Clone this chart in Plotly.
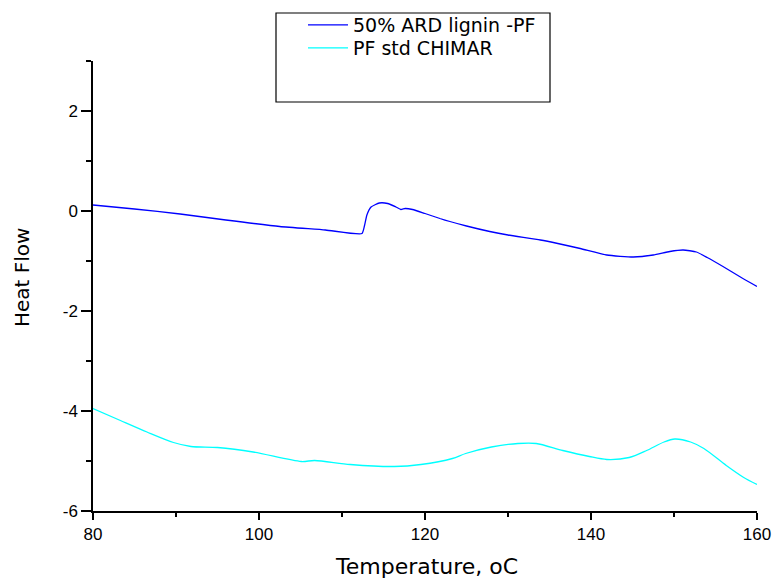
import plotly.graph_objects as go

# Data
temp_ard = [80, 85, 90.5, 96, 102.5, 108, 112.4, 112.7, 113.0, 113.5, 114.5, 115.5, 116.5, 117.1, 117.6,
            118.5, 120, 121.8, 123, 125, 127.8, 130, 133.9, 136, 138.7, 141.9, 145.1, 147.5,
            149.5, 151.1, 152.7, 154, 155.9, 158, 160]
hf_ard = [0.12, 0.04, -0.06, -0.18, -0.31, -0.38, -0.45, -0.3, -0.08, 0.08, 0.16, 0.15, 0.08, 0.03, 0.05,
          0.03, -0.05, -0.15, -0.21, -0.3, -0.41, -0.48, -0.58, -0.65, -0.75, -0.88, -0.92, -0.88,
          -0.81, -0.78, -0.82, -0.93, -1.11, -1.32, -1.51]

temp_std = [80, 83.3, 86.5, 89.7, 91.8, 95.0, 99.3, 105.1, 106.7, 111.0, 116.3, 119.5, 123.3, 124.9,
            128.0, 131.2, 133.4, 136.6, 139.8, 141.9, 144.6, 146.7, 148.8, 150.1, 152.0, 153.6,
            156.3, 158.4, 160]
hf_std = [-3.95, -4.19, -4.42, -4.63, -4.71, -4.73, -4.82, -5.01, -4.99, -5.07, -5.11, -5.07, -4.95, -4.85,
          -4.72, -4.65, -4.65, -4.79, -4.91, -4.97, -4.93, -4.79, -4.62, -4.56, -4.62, -4.75,
          -5.09, -5.33, -5.47]

names = ["50% ARD lignin -PF", "PF std CHIMAR"]
x_ticks = [80, 100, 120, 140, 160]
y_ticks = [-6, -4, -2, 0, 2]
y_ticktext = ["-6", "-4", "-2", "0", "2"]

FONT = "Liberation Sans, Arial, sans-serif"
WIDE = "DejaVu Sans, Verdana, sans-serif"

W, H = 773, 579
# plot area in page pixels
L, R, T, B = 93, 757, 61, 511
PW, PH = R - L, B - T


def px_x(p):
    return (p - L) / PW


def px_y(p):
    return (B - p) / PH


fig = go.Figure()
fig.add_trace(go.Scatter(x=temp_ard, y=hf_ard, mode="lines", name=names[0], legend="legend",
                         line=dict(color="#0000FF", width=1.3, shape="spline", smoothing=0.5)))
fig.add_trace(go.Scatter(x=temp_std, y=hf_std, mode="lines", name=names[1], legend="legend2",
                         line=dict(color="#00FFFF", width=1.3, shape="spline", smoothing=0.8)))

leg_common = dict(xanchor="left", yanchor="top", bgcolor="rgba(0,0,0,0)", borderwidth=0,
                  font=dict(family=WIDE, size=19, color="black"), itemwidth=40)

fig.update_layout(
    width=W, height=H,
    margin=dict(l=L, r=W - R, t=T, b=H - B, autoexpand=False),
    paper_bgcolor="white", plot_bgcolor="white",
    font=dict(family=FONT, color="black", size=17),
    showlegend=True,
    legend=dict(x=px_x(303), y=px_y(6), **leg_common),
    legend2=dict(x=px_x(303), y=px_y(29), **leg_common),
    xaxis=dict(range=[80, 160], tickvals=x_ticks, showgrid=False, zeroline=False,
               showline=True, linecolor="black", linewidth=1.5,
               ticks="outside", ticklen=7, tickwidth=1.5, tickcolor="black",
               tickfont=dict(size=17),
               minor=dict(dtick=10, tick0=80, ticks="outside", ticklen=4, tickwidth=1.5, tickcolor="black")),
    yaxis=dict(range=[-6, 3], tickvals=y_ticks, ticktext=y_ticktext, showgrid=False, zeroline=False,
               showline=True, linecolor="black", linewidth=1.5,
               ticks="outside", ticklen=10, tickwidth=1.5, tickcolor="black",
               tickfont=dict(size=17),
               minor=dict(dtick=1, tick0=0, ticks="outside", ticklen=5, tickwidth=1.5, tickcolor="black")),
    shapes=[dict(type="rect", xref="paper", yref="paper",
                 x0=px_x(276), x1=px_x(550),
                 y0=px_y(102), y1=px_y(13),
                 line=dict(color="black", width=1.2), fillcolor="rgba(0,0,0,0)")],
    annotations=[
        dict(text="Temperature, oC", xref="paper", yref="paper",
             x=px_x(426), y=px_y(566), xanchor="center", yanchor="middle",
             showarrow=False, font=dict(family=WIDE, size=22, color="black")),
        dict(text="Heat Flow", xref="paper", yref="paper",
             x=px_x(22), y=px_y(278), xanchor="center", yanchor="middle",
             textangle=-90, showarrow=False, font=dict(family=WIDE, size=20, color="black")),
    ],
)

# remove the default page margin so the 773x579 figure fills the window exactly
fig.write_html("out.html", config={"displayModeBar": False},
               post_script="document.body.style.margin='0';document.body.style.overflow='hidden';")
